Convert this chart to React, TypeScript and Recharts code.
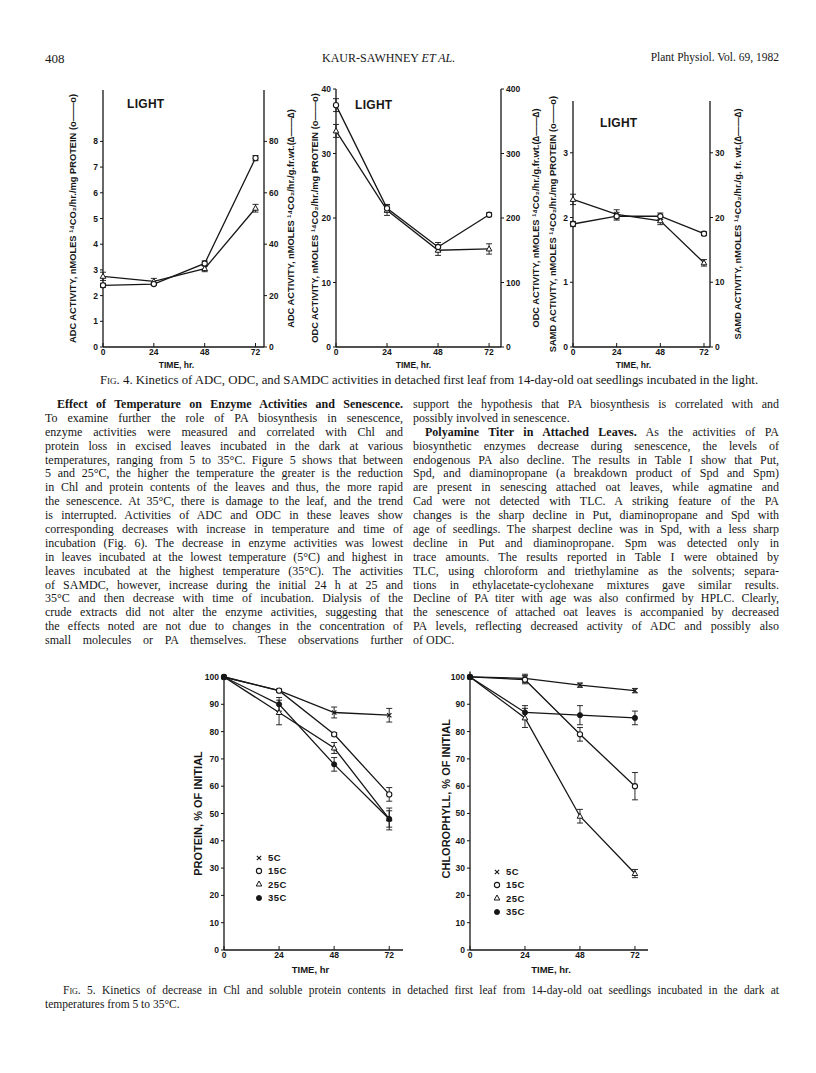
import React from 'react';
import { LineChart, Line, XAxis, YAxis, ErrorBar, Legend } from 'recharts';

const timeHours = [0, 24, 48, 72];
const timeTicks = [0, 24, 48, 72];

// Fig. 4: o—o per mg protein (left axis), Δ—Δ per g fr wt (right axis)
const adcProtein = [2.4, 2.45, 3.25, 7.35];
const adcProteinErr = [0.08, 0.06, 0.1, 0.1];
const adcFreshWt = [27.5, 25.5, 30.5, 54];
const adcFreshWtErr = [1.6, 1.2, 1.2, 1.5];
const adcLeftTicks = [0, 1, 2, 3, 4, 5, 6, 7, 8];
const adcRightTicks = [0, 20, 40, 60, 80];

const odcProtein = [37.5, 21.5, 15.5, 20.5];
const odcProteinErr = [1, 0.6, 0.7, 0.3];
const odcFreshWt = [335, 212, 150, 152];
const odcFreshWtErr = [10, 8, 8, 8];
const odcLeftTicks = [0, 10, 20, 30, 40];
const odcRightTicks = [0, 100, 200, 300, 400];

const samdcProtein = [1.9, 2.02, 2.02, 1.75];
const samdcProteinErr = [0.04, 0.06, 0.05, 0.03];
const samdcFreshWt = [22.8, 20.5, 19.5, 13];
const samdcFreshWtErr = [0.8, 0.7, 0.6, 0.5];
const samdcLeftTicks = [0, 1, 2, 3];
const samdcRightTicks = [0, 10, 20, 30];

// Fig. 5: % of initial, dark incubation
const tempLabels = ['5C', '15C', '25C', '35C'];
const protein5C = [100, 95, 87, 86];
const protein15C = [100, 95, 79, 57];
const protein25C = [100, 87, 74, 48];
const protein35C = [100, 90, 68, 48];
const protein5CErr = [0, 0, 2, 2.5];
const protein15CErr = [0, 0.5, 0.6, 2.5];
const protein25CErr = [0, 4.5, 2, 3];
const protein35CErr = [0, 2.5, 2.5, 4];

const chl5C = [100, 99.5, 97, 95];
const chl15C = [100, 99, 79, 60];
const chl25C = [100, 85, 49, 28];
const chl35C = [100, 87, 86, 85];
const chl5CErr = [0, 1.5, 0.8, 0.8];
const chl15CErr = [0, 1.5, 2.5, 5];
const chl25CErr = [0, 3.5, 2.5, 1.5];
const chl35CErr = [0, 2.5, 3.5, 2.5];

const percentTicks = [0, 10, 20, 30, 40, 50, 60, 70, 80, 90, 100];

const leftColumn = [
  'To examine further the role of PA biosynthesis in senescence,',
  'enzyme activities were measured and correlated with Chl and',
  'protein loss in excised leaves incubated in the dark at various',
  'temperatures, ranging from 5 to 35°C. Figure 5 shows that between',
  '5 and 25°C, the higher the temperature the greater is the reduction',
  'in Chl and protein contents of the leaves and thus, the more rapid',
  'the senescence. At 35°C, there is damage to the leaf, and the trend',
  'is interrupted. Activities of ADC and ODC in these leaves show',
  'corresponding decreases with increase in temperature and time of',
  'incubation (Fig. 6). The decrease in enzyme activities was lowest',
  'in leaves incubated at the lowest temperature (5°C) and highest in',
  'leaves incubated at the highest temperature (35°C). The activities',
  'of SAMDC, however, increase during the initial 24 h at 25 and',
  '35°C and then decrease with time of incubation. Dialysis of the',
  'crude extracts did not alter the enzyme activities, suggesting that',
  'the effects noted are not due to changes in the concentration of',
  'small molecules or PA themselves. These observations further',
];

const rightColumnTop = [
  'support the hypothesis that PA biosynthesis is correlated with and',
  'possibly involved in senescence.',
];
const rightColumn = [
  'biosynthetic enzymes decrease during senescence, the levels of',
  'endogenous PA also decline. The results in Table I show that Put,',
  'Spd, and diaminopropane (a breakdown product of Spd and Spm)',
  'are present in senescing attached oat leaves, while agmatine and',
  'Cad were not detected with TLC. A striking feature of the PA',
  'changes is the sharp decline in Put, diaminopropane and Spd with',
  'age of seedlings. The sharpest decline was in Spd, with a less sharp',
  'decline in Put and diaminopropane. Spm was detected only in',
  'trace amounts. The results reported in Table I were obtained by',
  'TLC, using chloroform and triethylamine as the solvents; separa-',
  'tions in ethylacetate-cyclohexane mixtures gave similar results.',
  'Decline of PA titer with age was also confirmed by HPLC. Clearly,',
  'the senescence of attached oat leaves is accompanied by decreased',
  'PA levels, reflecting decreased activity of ADC and possibly also',
  'of ODC.',
];

const ink = '#161616';
const sans = '"Liberation Sans", Arial, sans-serif';
const serif = '"Liberation Serif", "Times New Roman", serif';

const dualRows = (p: number[], pe: number[], f: number[], fe: number[]) =>
  timeHours.map((t, i) => ({ t, protein: p[i], proteinErr: pe[i], freshWt: f[i], freshWtErr: fe[i] }));

const tempRows = (a: number[], b: number[], c: number[], d: number[], ea: number[], eb: number[], ec: number[], ed: number[]) =>
  timeHours.map((t, i) => ({ t, c5: a[i], c15: b[i], c25: c[i], c35: d[i], e5: ea[i], e15: eb[i], e25: ec[i], e35: ed[i] }));

// markers: 0 = cross, 1 = open circle, 2 = open triangle, 3 = filled circle
const marker = (kind: number, cx: number, cy: number, key?: string) => {
  if (kind === 0)
    return (
      <g key={key}>
        <line x1={cx - 2.2} y1={cy - 2.2} x2={cx + 2.2} y2={cy + 2.2} stroke={ink} strokeWidth={1.1} />
        <line x1={cx - 2.2} y1={cy + 2.2} x2={cx + 2.2} y2={cy - 2.2} stroke={ink} strokeWidth={1.1} />
      </g>
    );
  if (kind === 1) return <circle key={key} cx={cx} cy={cy} r={2.6} fill="#fff" stroke={ink} strokeWidth={1.1} />;
  if (kind === 2)
    return (
      <polygon key={key} points={`${cx},${cy - 3} ${cx - 2.8},${cy + 2} ${cx + 2.8},${cy + 2}`} fill="#fff" stroke={ink} strokeWidth={1} />
    );
  return <circle key={key} cx={cx} cy={cy} r={2.6} fill={ink} stroke={ink} strokeWidth={0.8} />;
};

const dotOf = (kind: number) => (p: any) => {
  if (p.cx == null || p.cy == null) return <g key={`n-${kind}-${p.index}`} />;
  return marker(kind, p.cx, p.cy, `m-${kind}-${p.index}`);
};

const axisLine = { stroke: ink, strokeWidth: 1.3 };
const tickLine = { stroke: ink, strokeWidth: 1 };
const tickText = { fontSize: 8.5, fontFamily: sans, fontWeight: 700, fill: ink };
const titleText = { fontSize: 9.3, fontFamily: sans, fontWeight: 700, fill: ink };

type Box = { left: number; top: number; width: number; height: number; mt: number; lw: number; rw: number; xh: number };

function EnzymePanel(props: {
  box: Box;
  rows: any[];
  xMax: number;
  leftDomain: number[];
  rightDomain: number[];
  leftTicks: number[];
  rightTicks: number[];
  leftTitle: string;
  rightTitle: string;
  titleDx: number[];
  timeDx: number;
  light: number[];
}) {
  const { box, rows, xMax } = props;
  return (
    <div style={{ position: 'absolute', left: box.left, top: box.top }}>
      <LineChart width={box.width} height={box.height} data={rows} margin={{ top: box.mt, right: 0, bottom: 0, left: 0 }}>
        <XAxis xAxisId="frame" orientation="top" dataKey="t" type="number" domain={[0, xMax]} tick={false} tickLine={false} height={0} axisLine={axisLine} />
        <XAxis
          dataKey="t"
          type="number"
          domain={[0, xMax]}
          ticks={timeTicks}
          height={box.xh}
          tickSize={-4}
          tickMargin={6}
          tick={tickText}
          tickLine={tickLine}
          axisLine={axisLine}
          label={{ value: 'TIME, hr.', position: 'insideBottom', offset: 12, dx: props.timeDx, ...titleText, fontSize: 8.5 }}
        />
        <YAxis
          yAxisId="left"
          type="number"
          domain={props.leftDomain}
          ticks={props.leftTicks}
          width={box.lw}
          tickSize={3}
          tickMargin={2}
          tick={tickText}
          tickLine={tickLine}
          axisLine={axisLine}
          label={{ value: props.leftTitle, angle: -90, position: 'center', dx: props.titleDx[0], ...titleText }}
        />
        <YAxis
          yAxisId="right"
          orientation="right"
          type="number"
          domain={props.rightDomain}
          ticks={props.rightTicks}
          width={box.rw}
          tickSize={3}
          tickMargin={2}
          tick={tickText}
          tickLine={tickLine}
          axisLine={axisLine}
          label={{ value: props.rightTitle, angle: -90, position: 'center', dx: props.titleDx[1], ...titleText }}
        />
        <Line yAxisId="right" dataKey="freshWt" stroke={ink} strokeWidth={1.3} dot={dotOf(2)} activeDot={false} isAnimationActive={false}>
          <ErrorBar dataKey="freshWtErr" width={3} strokeWidth={0.9} stroke={ink} direction="y" />
        </Line>
        <Line yAxisId="left" dataKey="protein" stroke={ink} strokeWidth={1.3} dot={dotOf(1)} activeDot={false} isAnimationActive={false}>
          <ErrorBar dataKey="proteinErr" width={3} strokeWidth={0.9} stroke={ink} direction="y" />
        </Line>
      </LineChart>
      <div
        style={{
          position: 'absolute',
          left: props.light[0],
          top: props.light[1],
          font: `700 12px ${sans}`,
          letterSpacing: 0.3,
          lineHeight: '14px',
        }}
      >
        LIGHT
      </div>
    </div>
  );
}

const TempLegend = () => (
  <div style={{ fontFamily: sans, fontSize: 9.5, fontWeight: 700, color: ink }}>
    {tempLabels.map((name, i) => (
      <div key={name} style={{ height: 13.3, display: 'flex', alignItems: 'center' }}>
        <svg width={10} height={10} style={{ overflow: 'visible' }}>
          {marker(i, 5, 5)}
        </svg>
        <span style={{ marginLeft: 4, letterSpacing: 0.5 }}>{name}</span>
      </div>
    ))}
  </div>
);

function TempPanel(props: {
  box: { left: number; top: number; width: number; height: number; mt: number; lw: number; xh: number };
  rows: any[];
  xMax: number;
  yMax: number;
  title: string;
  timeLabel: string;
  titleDx: number;
  titleDy: number;
  timeDx: number;
  legendAt: number[];
}) {
  const { box } = props;
  const keys = ['c5', 'c15', 'c25', 'c35'];
  const errs = ['e5', 'e15', 'e25', 'e35'];
  return (
    <div style={{ position: 'absolute', left: box.left, top: box.top }}>
      <LineChart width={box.width} height={box.height} data={props.rows} margin={{ top: box.mt, right: 7, bottom: 0, left: 0 }}>
        <XAxis xAxisId="frame" orientation="top" dataKey="t" type="number" domain={[0, props.xMax]} tick={false} tickLine={false} height={0} axisLine={axisLine} />
        <XAxis
          dataKey="t"
          type="number"
          domain={[0, props.xMax]}
          ticks={timeTicks}
          height={box.xh}
          tickSize={-4}
          tickMargin={6}
          tick={tickText}
          tickLine={tickLine}
          axisLine={axisLine}
          label={{ value: props.timeLabel, position: 'insideBottom', offset: 17, dx: props.timeDx, ...titleText, fontSize: 9.5 }}
        />
        <YAxis
          type="number"
          domain={[0, props.yMax]}
          ticks={percentTicks}
          width={box.lw}
          tickSize={3}
          tickMargin={2}
          tick={tickText}
          tickLine={tickLine}
          axisLine={axisLine}
          label={{ value: props.title, angle: -90, position: 'center', dx: props.titleDx, dy: props.titleDy, ...titleText, fontSize: 11 }}
        />
        <YAxis yAxisId="frame" orientation="right" type="number" domain={[0, props.yMax]} tick={false} tickLine={false} width={0} axisLine={axisLine} />
        {keys.map((k, i) => (
          <Line key={k} dataKey={k} stroke={ink} strokeWidth={1.3} dot={dotOf(i)} activeDot={false} isAnimationActive={false}>
            <ErrorBar dataKey={errs[i]} width={3} strokeWidth={0.9} stroke={ink} direction="y" />
          </Line>
        ))}
        <Legend
          layout="vertical"
          align="center"
          verticalAlign="middle"
          width={40}
          wrapperStyle={{ left: props.legendAt[0], top: props.legendAt[1], width: 40 }}
          content={() => <TempLegend />}
        />
      </LineChart>
    </div>
  );
}

const JustLine = ({ children, last, indent }: { children: React.ReactNode; last?: boolean; indent?: number }) => (
  <div
    style={{
      textAlign: 'justify',
      textAlignLast: last ? 'left' : 'justify',
      whiteSpace: 'nowrap',
      paddingLeft: indent || 0,
      height: 13.9,
    }}
  >
    {children}
  </div>
);

export default function App() {
  const adcRows = dualRows(adcProtein, adcProteinErr, adcFreshWt, adcFreshWtErr);
  const odcRows = dualRows(odcProtein, odcProteinErr, odcFreshWt, odcFreshWtErr);
  const samdcRows = dualRows(samdcProtein, samdcProteinErr, samdcFreshWt, samdcFreshWtErr);
  const proteinRows = tempRows(protein5C, protein15C, protein25C, protein35C, protein5CErr, protein15CErr, protein25CErr, protein35CErr);
  const chlRows = tempRows(chl5C, chl15C, chl25C, chl35C, chl5CErr, chl15CErr, chl25CErr, chl35CErr);

  const columnStyle: React.CSSProperties = {
    position: 'absolute',
    top: 398,
    fontFamily: serif,
    fontSize: 12,
    lineHeight: '13.9px',
    color: ink,
  };

  return (
    <div style={{ position: 'absolute', left: 0, top: 0, width: 816, height: 1073, background: '#fff', color: ink, overflow: 'hidden', fontFamily: serif }}>
      <div style={{ position: 'absolute', left: 45, top: 51, fontSize: 13 }}>408</div>
      <div style={{ position: 'absolute', left: 322, top: 51, fontSize: 12 }}>
        KAUR-SAWHNEY <i>ET AL.</i>
      </div>
      <div style={{ position: 'absolute', right: 37, top: 51, fontSize: 11.5 }}>Plant Physiol. Vol. 69, 1982</div>

      <EnzymePanel
        box={{ left: 40, top: 80, width: 270, height: 300, mt: 10, lw: 63, rw: 46, xh: 33 }}
        rows={adcRows}
        xMax={76}
        leftDomain={[0, 10]}
        rightDomain={[0, 100]}
        leftTicks={adcLeftTicks}
        rightTicks={adcRightTicks}
        leftTitle="ADC ACTIVITY, nMOLES ¹⁴CO₂/hr./mg PROTEIN (o——o)"
        rightTitle="ADC ACTIVITY, nMOLES ¹⁴CO₂/hr./g.fr.wt.(∆——∆)"
        titleDx={[1, 4]}
        timeDx={-7}
        light={[87, 17]}
      />
      <EnzymePanel
        box={{ left: 280, top: 79, width: 280, height: 301, mt: 10, lw: 56, rw: 59, xh: 33 }}
        rows={odcRows}
        xMax={77.6}
        leftDomain={[0, 40]}
        rightDomain={[0, 400]}
        leftTicks={odcLeftTicks}
        rightTicks={odcRightTicks}
        leftTitle="ODC ACTIVITY, nMOLES ¹⁴CO₂/hr./mg PROTEIN (o——o)"
        rightTitle="ODC ACTIVITY, nMOLES ¹⁴CO₂/hr./g.fr.wt.(∆——∆)"
        titleDx={[7, 5]}
        timeDx={-5}
        light={[75, 19]}
      />
      <EnzymePanel
        box={{ left: 530, top: 91, width: 230, height: 289, mt: 10, lw: 43, rw: 50, xh: 33 }}
        rows={samdcRows}
        xMax={75.3}
        leftDomain={[0, 3.8]}
        rightDomain={[0, 38]}
        leftTicks={samdcLeftTicks}
        rightTicks={samdcRightTicks}
        leftTitle="SAMD ACTIVITY, nMOLES ¹⁴CO₂/hr./mg PROTEIN (o——o)"
        rightTitle="SAMD ACTIVITY, nMOLES ¹⁴CO₂/hr./g. fr. wt.(∆——∆)"
        titleDx={[1, 3]}
        timeDx={-8}
        light={[70, 25]}
      />

      <div style={{ position: 'absolute', left: 100, top: 373, fontSize: 12.8, whiteSpace: 'nowrap' }}>
        <span style={{ fontVariant: 'small-caps' }}>Fig.</span> 4. Kinetics of ADC, ODC, and SAMDC activities in detached first leaf from
        14-day-old oat seedlings incubated in the light.
      </div>

      <div style={{ ...columnStyle, left: 45, width: 358 }}>
        <JustLine indent={12}>
          <b>Effect of Temperature on Enzyme Activities and Senescence.</b>
        </JustLine>
        {leftColumn.map((t, i) => (
          <JustLine key={i}>{t}</JustLine>
        ))}
      </div>

      <div style={{ ...columnStyle, left: 413, width: 366 }}>
        {rightColumnTop.map((t, i) => (
          <JustLine key={i} last={i === rightColumnTop.length - 1}>
            {t}
          </JustLine>
        ))}
        <JustLine indent={12}>
          <b>Polyamine Titer in Attached Leaves.</b> As the activities of PA
        </JustLine>
        {rightColumn.map((t, i) => (
          <JustLine key={i} last={i === rightColumn.length - 1}>
            {t}
          </JustLine>
        ))}
      </div>

      <TempPanel
        box={{ left: 178, top: 667, width: 232, height: 323, mt: 10, lw: 46, xh: 40 }}
        rows={proteinRows}
        xMax={78}
        yMax={100}
        title="PROTEIN, % OF INITIAL"
        timeLabel="TIME, hr"
        titleDx={-3}
        titleDy={0}
        timeDx={-3}
        legendAt={[76, 184]}
      />
      <TempPanel
        box={{ left: 424, top: 661, width: 231, height: 329, mt: 10.5, lw: 46, xh: 40 }}
        rows={chlRows}
        xMax={77.7}
        yMax={102}
        title="CHLOROPHYLL, % OF INITIAL"
        timeLabel="TIME, hr."
        titleDx={-1}
        titleDy={-12}
        timeDx={-8}
        legendAt={[68, 204]}
      />

      <div style={{ position: 'absolute', left: 63, top: 983, width: 716, fontSize: 11.5, lineHeight: '14px' }}>
        <JustLine>
          <span style={{ fontVariant: 'small-caps' }}>Fig.</span> 5. Kinetics of decrease in Chl and soluble protein contents in detached first leaf
          from 14-day-old oat seedlings incubated in the dark at
        </JustLine>
      </div>
      <div style={{ position: 'absolute', left: 45, top: 997, fontSize: 11.5, lineHeight: '14px' }}>temperatures from 5 to 35°C.</div>
    </div>
  );
}
